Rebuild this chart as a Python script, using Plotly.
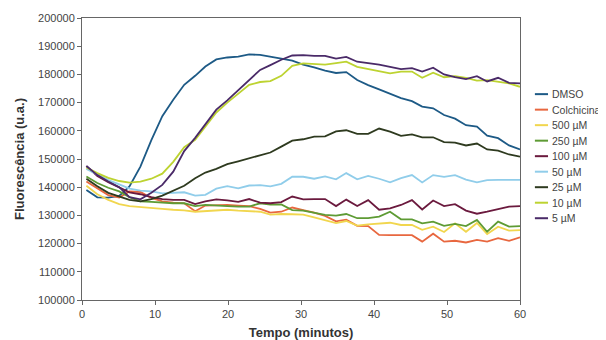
import plotly.graph_objects as go

time_min = [0.6, 2.1, 3.6, 5.1, 6.5, 8.0, 9.5, 11.0, 12.5, 14.0, 15.5, 16.9, 18.4, 19.9,
            21.4, 22.9, 24.4, 25.8, 27.3, 28.8, 30.3, 31.8, 33.3, 34.8, 36.2, 37.7, 39.2,
            40.7, 42.2, 43.7, 45.2, 46.6, 48.1, 49.6, 51.1, 52.6, 54.1, 55.5, 57.0, 58.5, 60.0]

dmso = [139000, 136400, 136300, 136900, 140300, 147300, 156700, 165200, 171000, 176300,
        179500, 182800, 185300, 186000, 186300, 187100, 186900, 186400, 185600, 184900,
        183500, 182500, 181300, 180500, 180800, 178000, 176200, 174700, 173100, 171600,
        170500, 168600, 168000, 165600, 164300, 162000, 161500, 158300, 157400, 154800, 153400]
colchicina = [142000, 139500, 137200, 136300, 138500, 138300, 136200, 135000, 134500, 134300,
              131500, 133500, 133700, 133700, 133500, 133300, 132300, 131000, 131300, 132800,
              131900, 131000, 129800, 127900, 128500, 126300, 126200, 123100, 123000, 123000,
              123000, 120700, 123500, 120700, 121000, 120400, 121300, 120700, 121900, 121000, 122200]
c500 = [140500, 137500, 135500, 134000, 133300, 132900, 132600, 132300, 132000, 131800,
        131300, 131500, 131800, 132000, 131700, 131500, 131300, 130300, 130500, 130400,
        130300, 129300, 128400, 127300, 128000, 126400, 126800, 127000, 127400, 126600,
        126600, 124900, 126000, 124100, 127200, 124200, 127300, 123400, 126000, 124600, 124800]
c250 = [143800, 141500, 139800, 138500, 136500, 135000, 134800, 134500, 134300, 134300,
        133300, 133700, 133600, 133300, 133100, 133100, 134300, 133800, 133900, 131900,
        131700, 131000, 130200, 129900, 130500, 129000, 129000, 129600, 131300, 128600,
        128600, 127200, 127800, 126300, 127000, 126200, 128400, 124200, 127800, 126000, 126200]
c100 = [147500, 144000, 141800, 140000, 138200, 137500, 136500, 135800, 135500, 135500,
        134000, 135000, 135700, 135300, 134800, 135800, 134500, 134300, 134700, 136700,
        135700, 135800, 135800, 133300, 135600, 133300, 135400, 132000, 132500, 133700,
        135400, 132100, 135300, 133300, 134000, 131700, 130600, 131300, 132200, 133100, 133300]
c50 = [146500, 144500, 142500, 141000, 139500, 138800, 138500, 137800, 138000, 138200,
       137000, 137300, 139500, 140400, 139600, 140600, 140700, 140300, 141200, 143700,
       143700, 143000, 143800, 142800, 145000, 142800, 144000, 143000, 141700, 143200,
       144300, 141700, 144300, 143700, 144300, 142700, 141700, 142500, 142600, 142600, 142600]
c25 = [143000, 140300, 138000, 136600, 135500, 135000, 135800, 137000, 138800, 140500,
       143200, 145200, 146500, 148200, 149200, 150300, 151400, 152300, 154400, 156500,
       157000, 157900, 158000, 159800, 160200, 158900, 158900, 160800, 159700, 158200,
       158700, 157700, 157700, 156000, 155800, 154800, 155500, 153400, 153000, 151600, 150800]
c10 = [147000, 145000, 143300, 142200, 141600, 142000, 143000, 144800, 149000, 154200,
       156800, 161500, 166500, 170000, 173300, 176300, 177300, 177600, 179500, 183000,
       183900, 183600, 183500, 184000, 184500, 182700, 182000, 181200, 180400, 181000,
       181000, 178800, 180600, 179000, 179400, 178800, 177800, 178000, 177500, 176800, 175600]
c5 = [147500, 144300, 142000, 140000, 136500, 135700, 138000, 140800, 145500, 152800,
      157500, 162500, 167500, 170800, 174300, 177800, 181600, 183300, 185200, 186700,
      186800, 186600, 186600, 185600, 186200, 184500, 184000, 183500, 182700, 181900,
      182200, 181000, 182400, 180000, 179000, 178300, 179400, 177500, 178800, 177000, 176800]

series_names = ["DMSO", "Colchicina", "500 µM", "250 µM", "100 µM", "50 µM", "25 µM", "10 µM", "5 µM"]
series_values = [dmso, colchicina, c500, c250, c100, c50, c25, c10, c5]
series_colors = ["#1d5a86", "#e8673f", "#f1d64e", "#5e9b34", "#6b1a3e", "#90cdea",
                 "#2e3a1f", "#bdd331", "#4a2a68"]

fig = go.Figure()
for name, vals, col in zip(series_names, series_values, series_colors):
    fig.add_trace(go.Scatter(x=time_min, y=vals, mode="lines", name=name,
                             line=dict(color=col, width=1.8), showlegend=False))

# compact legend (short line samples + labels), placed to the right of the plot
leg_top, leg_step = 0.73, 0.055
for i, (name, col) in enumerate(zip(series_names, series_colors)):
    yy = leg_top - i * leg_step
    fig.add_shape(type="line", xref="paper", yref="paper", x0=1.034, x1=1.064,
                  y0=yy, y1=yy, line=dict(color=col, width=2))
    fig.add_annotation(xref="paper", yref="paper", x=1.068, y=yy, text=name,
                       showarrow=False, xanchor="left", yanchor="middle",
                       font=dict(size=10.5, color="#444"))

font_family = "Liberation Sans, Arial, sans-serif"
# the page body has an 8px default margin, so the figure is sized to fit the window
fig.update_layout(
    width=598, height=332,
    margin=dict(l=74, r=86, t=10, b=40, autoexpand=False),
    paper_bgcolor="white", plot_bgcolor="white",
    font=dict(family=font_family, size=11, color="#444"),
    showlegend=False,
    xaxis=dict(range=[0, 60], dtick=10, tick0=0, showgrid=False, zeroline=False,
               showline=True, linecolor="#666", linewidth=1, mirror=True,
               ticks="outside", ticklen=4, tickcolor="#666",
               tickfont=dict(size=11, color="#444"),
               title=dict(text="<b>Tempo (minutos)</b>", standoff=10,
                          font=dict(size=13, color="#333"))),
    yaxis=dict(range=[100000, 200000], dtick=10000, showgrid=False, zeroline=False,
               showline=True, linecolor="#666", linewidth=1, mirror=True,
               ticks="outside", ticklen=4, tickcolor="#666", tickformat="d",
               tickfont=dict(size=11, color="#444"),
               title=dict(text="<b>Fluorescência (u.a.)</b>", standoff=10,
                          font=dict(size=13, color="#333"))),
)

fig.write_html("out.html")
